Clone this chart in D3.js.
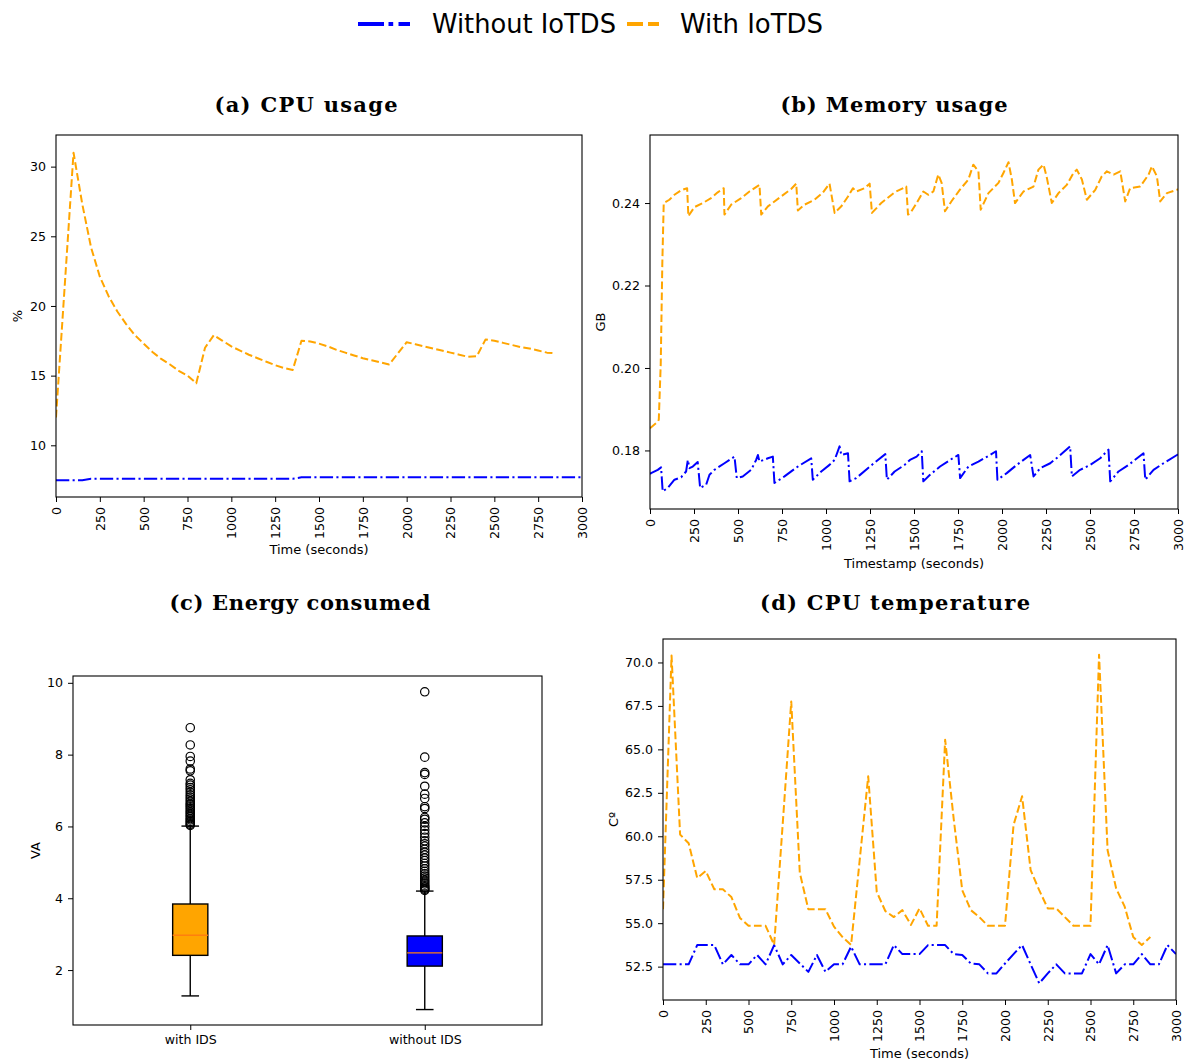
<!DOCTYPE html>
<html>
<head>
<meta charset="utf-8">
<script src="https://cdn.jsdelivr.net/npm/d3@7"></script>
<style>
  body { margin: 0; background: #fff; }
  svg { display: block; }
</style>
</head>
<body>
<svg id="fig" width="1192" height="1063"></svg>
<script>
// ---------- data ----------
const xTicks = [0, 250, 500, 750, 1000, 1250, 1500, 1750, 2000, 2250, 2500, 2750, 3000];
const seriesNames = ["Without IoTDS", "With IoTDS"];

// (a) CPU usage, %
const cpuTimeWith = [0,50,100,150,200,250,300,350,400,450,500,550,600,650,700,750,800,850,900,950,
  1000,1050,1100,1150,1200,1250,1300,1350,1400,1450,1500,1550,1600,1650,1700,1750,1800,1850,1900,1950,
  2000,2050,2100,2150,2200,2250,2300,2350,2400,2450,2500,2550,2600,2650,2700,2750,2800,2850];
const cpuWith = [12.0,21.5,31.0,27.3,24.2,22.1,20.7,19.6,18.7,17.9,17.3,16.7,16.2,15.8,15.35,15.0,14.45,17.0,17.9,17.5,
  17.1,16.8,16.5,16.25,16.0,15.75,15.55,15.4,17.5,17.45,17.3,17.1,16.85,16.65,16.45,16.25,16.1,15.95,15.8,16.6,
  17.4,17.25,17.1,16.95,16.8,16.65,16.5,16.35,16.4,17.6,17.5,17.35,17.2,17.05,16.95,16.8,16.65,16.6];
const cpuTimeWithout = [0,150,200,1350,1400,3000];
const cpuWithout = [7.5,7.5,7.6,7.6,7.7,7.7];
const cpuYTicks = [10, 15, 20, 25, 30];

// (b) Memory usage, GB
const memTimeWith = [0,45,50,61,70,78,110,139,177,211,218,252,300,347,385,419,423,461,518,565,622,632,670,745,802,831,840,878,935,982,
  1020,1049,1087,1125,1153,1172,1219,1248,1261,1314,1390,1456,1466,1480,1515,1553,1581,1610,1638,1657,1676,1714,1762,1809,1837,1866,1879,
  1923,1980,2008,2037,2056,2074,2122,2179,2207,2236,2255,2283,2321,2368,2406,2425,2454,2482,2530,2567,2596,2634,2672,2700,2728,2785,
  2833,2852,2880,2899,2937,2994,3000];
const memWith = [0.1854,0.1870,0.1875,0.2010,0.2254,0.2400,0.2408,0.2420,0.2431,0.2436,0.2368,0.2390,0.2400,0.2412,0.2426,0.2436,0.2372,0.2396,0.2412,0.2428,0.2444,0.2372,0.2392,0.2416,0.2434,0.2447,0.2382,0.2396,0.2408,0.2425,
  0.2447,0.2376,0.2392,0.2416,0.2436,0.2428,0.2436,0.2447,0.2376,0.2400,0.2426,0.2440,0.2372,0.2376,0.2400,0.2428,0.2420,0.2428,0.2469,0.2449,0.2380,0.2405,0.2433,0.2457,0.2493,0.2477,0.2384,
  0.2424,0.2449,0.2473,0.2499,0.2457,0.2400,0.2428,0.2440,0.2481,0.2493,0.2461,0.2400,0.2424,0.2444,0.2473,0.2481,0.2457,0.2408,0.2432,0.2465,0.2477,0.2469,0.2477,0.2404,0.2436,0.2440,
  0.2469,0.2489,0.2465,0.2404,0.2424,0.2432,0.2434];
const memTimeWithout = [0,6,44,63,72,101,139,177,205,215,224,243,271,285,319,338,366,423,480,493,527,575,603,613,622,670,698,707,764,840,916,925,973,
  1020,1049,1077,1087,1125,1134,1172,1238,1295,1337,1346,1390,1447,1477,1515,1544,1553,1591,1648,1705,1752,1762,1809,1866,1932,1966,1974,
  2027,2084,2160,2179,2217,2274,2321,2387,2397,2444,2501,2558,2605,2615,2662,2719,2804,2814,2861,2918,2994,3000];
const memWithout = [0.1743,0.1745,0.1753,0.1759,0.1701,0.1709,0.1729,0.1735,0.1749,0.1777,0.1757,0.1761,0.1772,0.1709,0.1717,0.1741,0.1753,0.1769,0.1785,0.1733,0.1737,0.1753,0.1777,0.1789,0.1773,0.1781,0.1785,0.1721,0.1737,0.1761,0.1781,0.1729,0.1749,
  0.1765,0.1777,0.1810,0.1789,0.1793,0.1725,0.1733,0.1757,0.1777,0.1791,0.1729,0.1749,0.1765,0.1777,0.1785,0.1798,0.1725,0.1741,0.1761,0.1777,0.1789,0.1733,0.1761,0.1773,0.1789,0.1798,0.1729,
  0.1745,0.1765,0.1789,0.1737,0.1757,0.1769,0.1785,0.1810,0.1737,0.1753,0.1765,0.1781,0.1802,0.1725,0.1749,0.1765,0.1793,0.1729,0.1753,0.1769,0.1789,0.1791];
const memYTicks = [0.18, 0.20, 0.22, 0.24];

// (c) Energy consumed, VA (box statistics)
const boxCategories = ["with IDS", "without IDS"];
const boxLowWhisker = [1.28, 0.90];
const boxQ1 = [2.41, 2.11];
const boxMedian = [2.97, 2.48];
const boxQ3 = [3.84, 2.95];
const boxHighWhisker = [6.01, 4.20];
const outliersWith = [6.03,6.06,6.10,6.14,6.18,6.22,6.27,6.31,6.36,6.40,6.45,6.50,6.55,6.60,6.64,6.70,6.76,6.82,6.88,6.95,
  7.02,7.08,7.15,7.20,7.30,7.55,7.60,7.82,7.95,8.27,8.75];
const outliersWithout = [4.22,4.25,4.28,4.31,4.35,4.40,4.45,4.50,4.56,4.62,4.68,4.75,4.82,4.90,4.97,5.05,5.12,5.20,5.28,5.36,
  5.45,5.52,5.60,5.70,5.80,5.90,6.00,6.10,6.20,6.25,6.50,6.55,6.78,6.90,7.12,7.45,7.50,7.93,9.75];
const energyYTicks = [2, 4, 6, 8, 10];

// (d) CPU temperature, °C
const tempTimeWith = cpuTimeWith;
const tempWith = [55.8,70.4,60.1,59.6,57.6,58.0,56.95,56.95,56.5,55.3,54.85,54.85,54.85,53.75,60.7,67.75,57.9,55.8,55.8,55.8,
  54.8,54.2,53.75,58.6,63.45,56.8,55.7,55.35,55.75,54.9,55.85,54.85,54.85,65.55,61.0,56.9,55.75,55.35,54.85,54.85,
  54.85,60.65,62.3,58.05,56.9,55.85,55.85,55.35,54.85,54.85,54.85,70.45,59.2,57.0,55.95,54.2,53.75,54.2];
const tempTimeWithout = [0,50,100,150,200,250,300,350,400,450,500,550,600,650,700,750,800,850,900,950,
  1000,1050,1100,1150,1200,1250,1300,1350,1400,1450,1500,1550,1600,1650,1700,1750,1800,1850,1900,1950,
  2000,2050,2100,2150,2200,2250,2300,2350,2400,2450,2500,2550,2600,2650,2700,2750,2800,2850,2900,2950,3000];
const tempWithout = [52.63,52.63,52.63,52.63,53.74,53.74,53.74,52.63,53.17,52.63,52.63,53.17,52.63,53.74,52.63,53.17,52.68,52.2,53.17,52.2,
  52.63,52.63,53.65,52.63,52.63,52.63,52.63,53.74,53.22,53.22,53.22,53.74,53.74,53.74,53.22,53.17,52.68,52.63,52.11,52.11,
  52.68,53.22,53.74,52.63,51.54,52.11,52.63,52.11,52.11,52.11,53.22,52.63,53.74,52.11,52.63,52.63,53.22,52.63,52.63,53.74,53.22];
const tempYTicks = [52.5, 55.0, 57.5, 60.0, 62.5, 65.0, 67.5, 70.0];

// ---------- styles ----------
const BLUE = "#0000ff", ORANGE = "#ffa500";
const DASH = "7.7,3.3";
const DASHDOT = "13.3,3.3,2.1,3.3";
const SANS = "DejaVu Sans, sans-serif";
const SERIF = "DejaVu Serif, serif";
const TICK_FONT = 12.6;

const svg = d3.select("#fig");

// ---------- legend ----------
const legend = svg.append("g");
legend.append("line").attr("x1", 358).attr("x2", 410).attr("y1", 24).attr("y2", 24)
  .attr("stroke", BLUE).attr("stroke-width", 4).attr("stroke-dasharray", "26,4.5,4.7,5.3");
legend.append("text").attr("x", 432).attr("y", 33).attr("font-family", SANS).attr("font-size", 26)
  .attr("textLength", 184).attr("lengthAdjust", "spacingAndGlyphs").text(seriesNames[0]);
legend.append("line").attr("x1", 627).attr("x2", 659).attr("y1", 24).attr("y2", 24)
  .attr("stroke", ORANGE).attr("stroke-width", 4).attr("stroke-dasharray", "16,5");
legend.append("text").attr("x", 680).attr("y", 33).attr("font-family", SANS).attr("font-size", 26)
  .attr("textLength", 143).attr("lengthAdjust", "spacingAndGlyphs").text(seriesNames[1]);

// ---------- helpers ----------
function title(text, cx, baseline, len) {
  svg.append("text").attr("x", cx).attr("y", baseline).attr("text-anchor", "middle")
    .attr("font-family", SERIF).attr("font-weight", "bold").attr("font-size", 21)
    .attr("textLength", len).attr("lengthAdjust", "spacing").text(text);
}

function frame(g, box) {
  g.append("rect").attr("x", box.l).attr("y", box.t)
    .attr("width", box.r - box.l).attr("height", box.b - box.t)
    .attr("fill", "none").attr("stroke", "#000").attr("stroke-width", 1.1);
}

function yAxis(g, box, y, ticks, fmt) {
  const ax = g.append("g").attr("transform", `translate(${box.l},0)`)
    .call(d3.axisLeft(y).tickValues(ticks).tickFormat(fmt).tickSize(5).tickPadding(5));
  ax.select(".domain").remove();
  ax.selectAll("text").attr("font-family", SANS).attr("font-size", TICK_FONT).attr("fill", "#000");
  ax.selectAll("line").attr("stroke", "#000");
}

function rotatedXAxis(g, box, x) {
  const ax = g.append("g").attr("transform", `translate(0,${box.b})`)
    .call(d3.axisBottom(x).tickValues(xTicks).tickFormat(d3.format("d")).tickSize(5));
  ax.select(".domain").remove();
  ax.selectAll("line").attr("stroke", "#000");
  ax.selectAll("text").attr("font-family", SANS).attr("font-size", TICK_FONT).attr("fill", "#000")
    .attr("y", 0).attr("x", -10).attr("dy", "0.35em")
    .attr("transform", "rotate(-90)").style("text-anchor", "end");
}

function axisLabels(g, box, xLabel, xLabelY, yLabel, yLabelX) {
  g.append("text").attr("x", (box.l + box.r) / 2).attr("y", xLabelY).attr("text-anchor", "middle")
    .attr("font-family", SANS).attr("font-size", 13).text(xLabel);
  g.append("text").attr("transform", `translate(${yLabelX},${(box.t + box.b) / 2}) rotate(-90)`)
    .attr("text-anchor", "middle").attr("dy", "0.35em")
    .attr("font-family", SANS).attr("font-size", 13).text(yLabel);
}

function linePanel(cfg) {
  const box = cfg.box;
  const g = svg.append("g");
  const x = d3.scaleLinear().domain([0, 3000]).range([box.l, box.r]);
  const y = d3.scaleLinear().domain(cfg.yDomain).range([box.b, box.t]);
  const clipId = "clip-" + cfg.id;
  g.append("clipPath").attr("id", clipId).append("rect")
    .attr("x", box.l).attr("y", box.t).attr("width", box.r - box.l).attr("height", box.b - box.t);
  const line = d3.line().x(d => x(d[0])).y(d => y(d[1]));
  cfg.series.forEach(s => {
    g.append("path").attr("clip-path", `url(#${clipId})`)
      .datum(s.t.map((t, i) => [t, s.v[i]]))
      .attr("d", line).attr("fill", "none").attr("stroke", s.color)
      .attr("stroke-width", 2).attr("stroke-dasharray", s.dash)
      .attr("stroke-linejoin", "round");
  });
  yAxis(g, box, y, cfg.yTicks, cfg.yFmt);
  rotatedXAxis(g, box, x);
  frame(g, box);
  axisLabels(g, box, cfg.xLabel, cfg.xLabelY, cfg.yLabel, cfg.yLabelX);
}

// ---------- (a) CPU usage ----------
title("(a) CPU usage", 306, 112, 183);
linePanel({
  id: "cpu", box: { l: 56, r: 582, t: 135, b: 497 }, yDomain: [6.29, 32.27],
  yTicks: cpuYTicks, yFmt: d3.format("d"),
  series: [
    { t: cpuTimeWithout, v: cpuWithout, color: BLUE, dash: DASHDOT },
    { t: cpuTimeWith, v: cpuWith, color: ORANGE, dash: DASH }
  ],
  xLabel: "Time (seconds)", xLabelY: 554, yLabel: "%", yLabelX: 17
});

// ---------- (b) Memory usage ----------
title("(b) Memory usage", 894, 112, 227);
linePanel({
  id: "mem", box: { l: 650, r: 1178, t: 135, b: 509 }, yDomain: [0.1658, 0.2565],
  yTicks: memYTicks, yFmt: d3.format(".2f"),
  series: [
    { t: memTimeWithout, v: memWithout, color: BLUE, dash: DASHDOT },
    { t: memTimeWith, v: memWith, color: ORANGE, dash: DASH }
  ],
  xLabel: "Timestamp (seconds)", xLabelY: 568, yLabel: "GB", yLabelX: 600
});

// ---------- (c) Energy consumed ----------
title("(c) Energy consumed", 300, 610, 261);
(function () {
  const box = { l: 73, r: 542, t: 676, b: 1025 };
  const g = svg.append("g");
  const x = d3.scaleLinear().domain([0.5, 2.5]).range([box.l, box.r]);
  const y = d3.scaleLinear().domain([0.47, 10.19]).range([box.b, box.t]);
  const boxW = 0.15, capW = 0.075;
  const fills = [ORANGE, BLUE];
  const outliers = [outliersWith, outliersWithout];
  boxCategories.forEach((c, i) => {
    const pos = i + 1;
    const gb = g.append("g");
    // whiskers
    gb.append("line").attr("x1", x(pos)).attr("x2", x(pos)).attr("y1", y(boxLowWhisker[i])).attr("y2", y(boxQ1[i]))
      .attr("stroke", "#000").attr("stroke-width", 1.4);
    gb.append("line").attr("x1", x(pos)).attr("x2", x(pos)).attr("y1", y(boxQ3[i])).attr("y2", y(boxHighWhisker[i]))
      .attr("stroke", "#000").attr("stroke-width", 1.4);
    // caps
    [boxLowWhisker[i], boxHighWhisker[i]].forEach(v => {
      gb.append("line").attr("x1", x(pos - capW / 2)).attr("x2", x(pos + capW / 2))
        .attr("y1", y(v)).attr("y2", y(v)).attr("stroke", "#000").attr("stroke-width", 1.4);
    });
    // box
    gb.append("rect").attr("x", x(pos - boxW / 2)).attr("width", x(pos + boxW / 2) - x(pos - boxW / 2))
      .attr("y", y(boxQ3[i])).attr("height", y(boxQ1[i]) - y(boxQ3[i]))
      .attr("fill", fills[i]).attr("stroke", "#000").attr("stroke-width", 1.4);
    // median
    gb.append("line").attr("x1", x(pos - boxW / 2)).attr("x2", x(pos + boxW / 2))
      .attr("y1", y(boxMedian[i])).attr("y2", y(boxMedian[i]))
      .attr("stroke", "#ff7f0e").attr("stroke-width", 1.4);
    // fliers
    gb.selectAll("circle").data(outliers[i]).join("circle")
      .attr("cx", x(pos)).attr("cy", d => y(d)).attr("r", 4.2)
      .attr("fill", "none").attr("stroke", "#000").attr("stroke-width", 1.2);
  });
  yAxis(g, box, y, energyYTicks, d3.format("d"));
  const ax = g.append("g").attr("transform", `translate(0,${box.b})`)
    .call(d3.axisBottom(x).tickValues([1, 2]).tickFormat(d => boxCategories[d - 1]).tickSize(5).tickPadding(5));
  ax.select(".domain").remove();
  ax.selectAll("line").attr("stroke", "#000");
  ax.selectAll("text").attr("font-family", SANS).attr("font-size", TICK_FONT).attr("fill", "#000");
  frame(g, box);
  g.append("text").attr("transform", `translate(35,${(box.t + box.b) / 2}) rotate(-90)`)
    .attr("text-anchor", "middle").attr("dy", "0.35em")
    .attr("font-family", SANS).attr("font-size", 13).text("VA");
})();

// ---------- (d) CPU temperature ----------
title("(d) CPU temperature", 895, 610, 270);
linePanel({
  id: "temp", box: { l: 663, r: 1176, t: 639, b: 1000 }, yDomain: [50.58, 71.35],
  yTicks: tempYTicks, yFmt: d3.format(".1f"),
  series: [
    { t: tempTimeWithout, v: tempWithout, color: BLUE, dash: DASHDOT },
    { t: tempTimeWith, v: tempWith, color: ORANGE, dash: DASH }
  ],
  xLabel: "Time (seconds)", xLabelY: 1058, yLabel: "Cº", yLabelX: 613
});
</script>
</body>
</html>
